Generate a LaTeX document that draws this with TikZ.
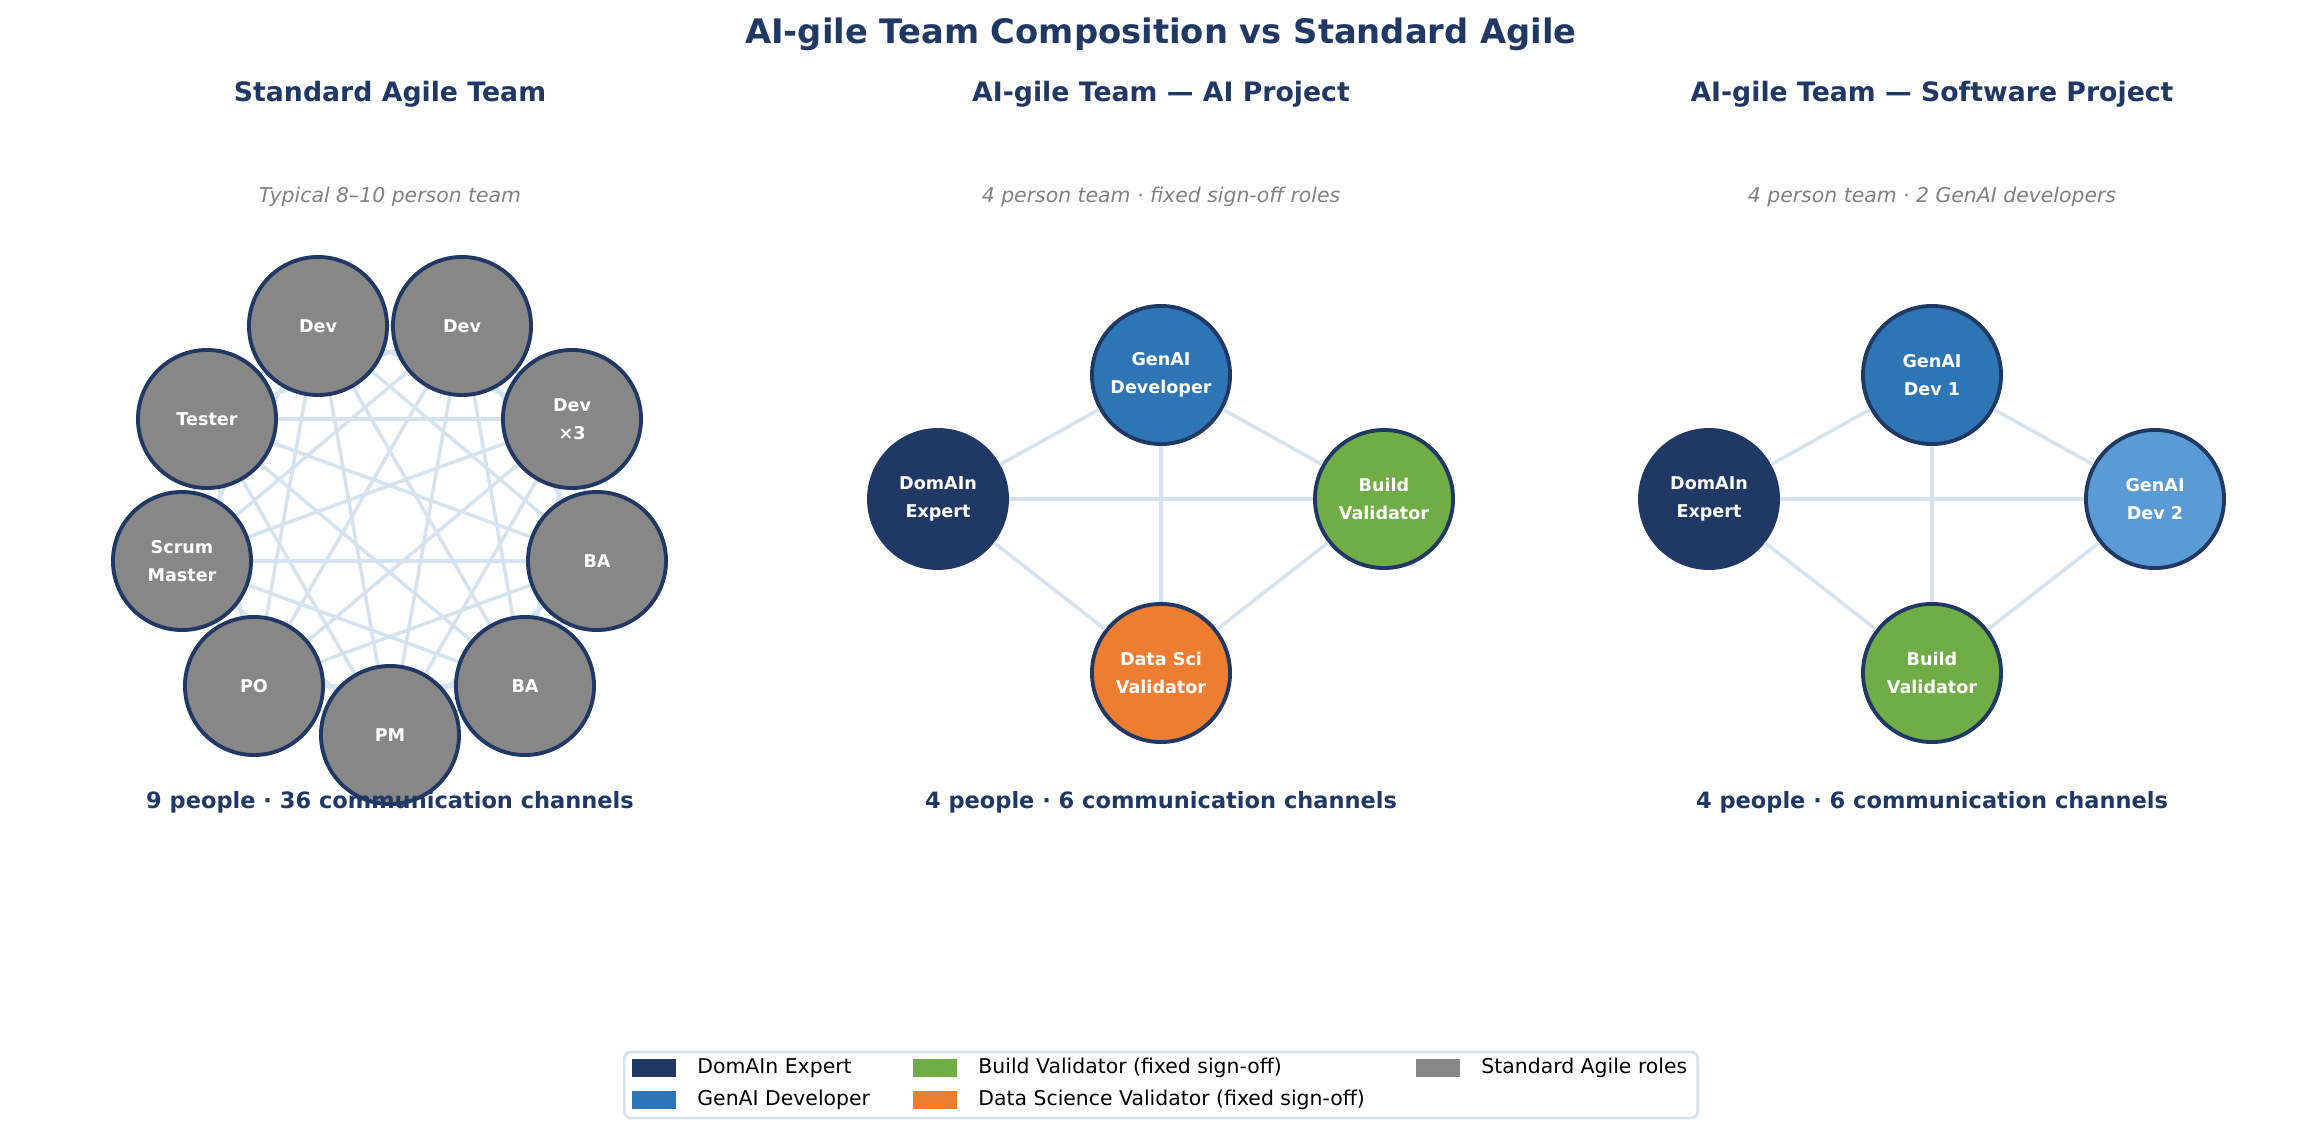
\documentclass[tikz,border=0pt]{standalone}
\usepackage{fontspec}
\setmainfont{DejaVu Sans}
\begin{document}
\definecolor{navy}{HTML}{1F3864}
\definecolor{gblue}{HTML}{2E75B6}
\definecolor{lblue}{HTML}{5B9BD5}
\definecolor{bgreen}{HTML}{70AD47}
\definecolor{dorange}{HTML}{ED7D31}
\definecolor{sgray}{HTML}{878787}
\definecolor{edgec}{HTML}{D5E2EF}
\begin{tikzpicture}[x=0.01cm,y=-0.01cm,
 role/.style={circle,draw=navy,line width=1.1pt,minimum size=1.38cm,inner sep=0pt,text=white,font=\fontsize{5}{6}\selectfont\bfseries,align=center},
 link/.style={draw=edgec,line width=1pt},
 ptitle/.style={text=navy,font=\fontsize{7.6}{9}\selectfont\bfseries},
 sub/.style={text=gray,font=\fontsize{5.8}{7}\selectfont\itshape},
 foot/.style={text=navy,font=\fontsize{6.4}{8}\selectfont\bfseries},
 leg/.style={font=\fontsize{5.8}{7}\selectfont,anchor=west},
 patch/.style={minimum width=0.44cm,minimum height=0.17cm,inner sep=0pt}]
\useasboundingbox (0,0) rectangle (2321,1137);
\node[text=navy,font=\fontsize{9.6}{11}\selectfont\bfseries] (T) at (1161,34) {AI-gile Team Composition vs Standard Agile};
% left panel
\node[ptitle] (t1) at (390,94) {Standard Agile Team};
\node[sub] (s1) at (390,197) {Typical 8–10 person team};
\foreach \n/\x/\y in {a/318/326,b/462/326,c/572/419,d/597/561,e/525/686,f/390/735,g/254/686,h/182/561,i/207/419}
  \coordinate (p\n) at (\x,\y);
\foreach \u/\v in {a/b,a/c,a/d,a/e,a/f,a/g,a/h,a/i,b/c,b/d,b/e,b/f,b/g,b/h,b/i,c/d,c/e,c/f,c/g,c/h,c/i,d/e,d/f,d/g,d/h,d/i,e/f,e/g,e/h,e/i,f/g,f/h,f/i,g/h,g/i,h/i}
  \draw[link] (p\u) -- (p\v);
\node[role,fill=sgray] (na) at (pa) {Dev};
\node[role,fill=sgray] (nb) at (pb) {Dev};
\node[role,fill=sgray] (nc) at (pc) {Dev\\[2pt]×3};
\node[role,fill=sgray] (nd) at (pd) {BA};
\node[role,fill=sgray] (ne) at (pe) {BA};
\node[role,fill=sgray] (nf) at (pf) {PM};
\node[role,fill=sgray] (ng) at (pg) {PO};
\node[role,fill=sgray] (nh) at (ph) {Scrum\\[2pt]Master};
\node[role,fill=sgray] (ni) at (pi) {Tester};
\node[foot] (f1) at (390,802) {9 people · 36 communication channels};
% middle panel
\node[ptitle] (t2) at (1161,94) {AI-gile Team — AI Project};
\node[sub] (s2) at (1161,197) {4 person team · fixed sign-off roles};
\node[role,fill=gblue] (m1) at (1161,375) {GenAI\\[2pt]Developer};
\node[role,fill=navy] (m2) at (938,499) {DomAIn\\[2pt]Expert};
\node[role,fill=bgreen] (m3) at (1384,499) {Build\\[2pt]Validator};
\node[role,fill=dorange] (m4) at (1161,673) {Data Sci\\[2pt]Validator};
\begin{scope}[on background layer/.style={}]
\end{scope}
\node[foot] (f2) at (1161,802) {4 people · 6 communication channels};
% right panel
\node[ptitle] (t3) at (1932,94) {AI-gile Team — Software Project};
\node[sub] (s3) at (1932,197) {4 person team · 2 GenAI developers};
\node[role,fill=gblue] (r1) at (1932,375) {GenAI\\[2pt]Dev 1};
\node[role,fill=navy] (r2) at (1709,499) {DomAIn\\[2pt]Expert};
\node[role,fill=lblue] (r3) at (2155,499) {GenAI\\[2pt]Dev 2};
\node[role,fill=bgreen] (r4) at (1932,673) {Build\\[2pt]Validator};
\foreach \u/\v in {1/2,1/3,1/4,2/3,2/4,3/4}{
  \draw[link] (m\u) -- (m\v);
  \draw[link] (r\u) -- (r\v);}
\node[foot] (f3) at (1932,802) {4 people · 6 communication channels};
% legend
\node[draw=edgec,line width=0.8pt,rounded corners=2pt,minimum width=10.73cm,minimum height=0.66cm] (L) at (1161,1085) {};
\node[patch,fill=navy] (l1) at (654,1068) {};
\node[leg] (lt1) at (685,1068) {DomAIn Expert};
\node[patch,fill=gblue] (l2) at (654,1100) {};
\node[leg] (lt2) at (685,1100) {GenAI Developer};
\node[patch,fill=bgreen] (l3) at (935,1068) {};
\node[leg] (lt3) at (966,1068) {Build Validator (fixed sign-off)};
\node[patch,fill=dorange] (l4) at (935,1100) {};
\node[leg] (lt4) at (966,1100) {Data Science Validator (fixed sign-off)};
\node[patch,fill=sgray] (l5) at (1438,1068) {};
\node[leg] (lt5) at (1469,1068) {Standard Agile roles};
\end{tikzpicture}
\end{document}
